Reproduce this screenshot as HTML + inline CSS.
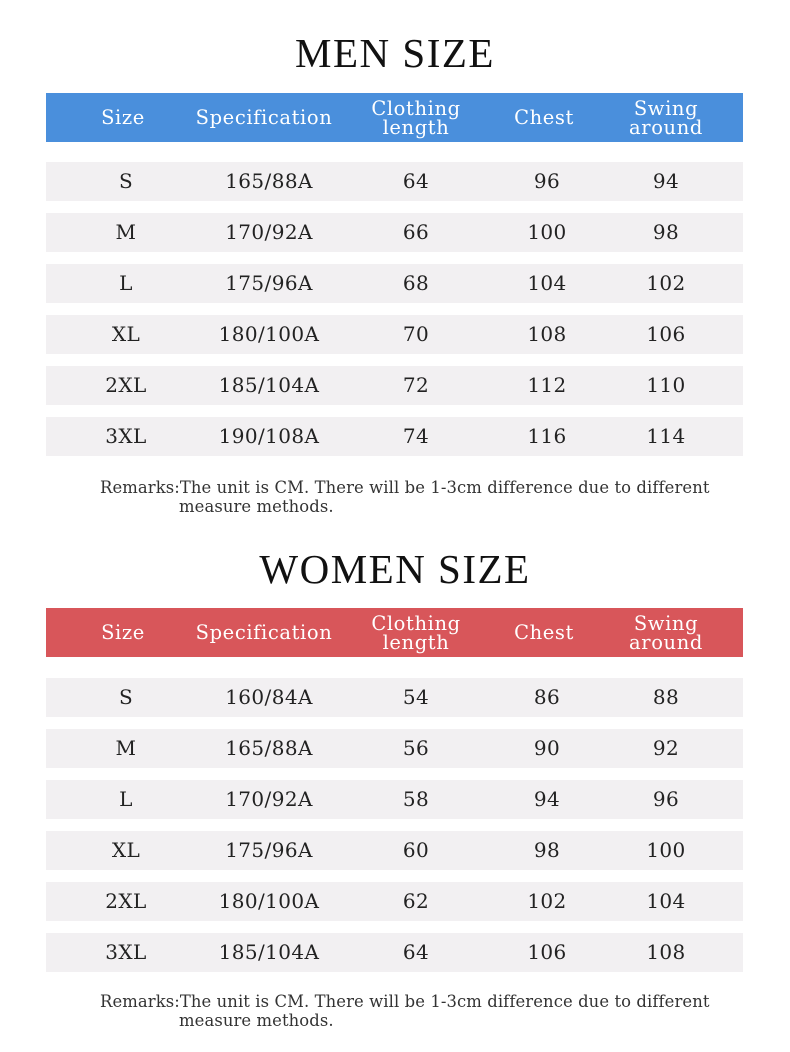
<!DOCTYPE html>
<html><head><style>
body{margin:0;width:790px;height:1052px;background:#fff;position:relative;font-family:"DejaVu Serif","Liberation Serif",serif;color:#222;overflow:hidden}
.t{position:absolute;left:0;width:790px;text-align:center;font-size:41px;letter-spacing:1.5px;color:#111;font-family:"Liberation Serif",serif}
.h,.r{position:absolute;left:46px;width:697px}
.h{height:49px;color:#fff;font-size:19.5px;letter-spacing:0.6px}
.r{height:39px;background:#f2f0f2;font-size:20px;letter-spacing:0.4px}
.c{position:absolute;top:0;height:100%;display:flex;align-items:center;justify-content:center;text-align:center;line-height:19px;width:160px;margin-left:-80px}
.rm{position:absolute;left:100px;font-size:16.4px;line-height:19px;color:#333;letter-spacing:0.1px;white-space:nowrap}
</style></head><body>
<div class="t" style="top:29px">MEN SIZE</div>
<div class="h" style="top:93px;background:#4a8fdc">
<div class="c" style="left:77px">Size</div><div class="c" style="left:218px">Specification</div><div class="c" style="left:370px">Clothing<br>length</div><div class="c" style="left:498px">Chest</div><div class="c" style="left:620px">Swing<br>around</div></div>
<div class="rm" style="top:478px">Remarks:The unit is CM. There will be 1-3cm difference due to different<br><span style="padding-left:79px">measure methods.</span></div>
<div class="t" style="top:545px">WOMEN SIZE</div>
<div class="h" style="top:608px;background:#d8565a">
<div class="c" style="left:77px">Size</div><div class="c" style="left:218px">Specification</div><div class="c" style="left:370px">Clothing<br>length</div><div class="c" style="left:498px">Chest</div><div class="c" style="left:620px">Swing<br>around</div></div>
<div class="rm" style="top:992px">Remarks:The unit is CM. There will be 1-3cm difference due to different<br><span style="padding-left:79px">measure methods.</span></div>

<div class="r" style="top:162px"><div class="c" style="left:80px">S</div><div class="c" style="left:223px">165/88A</div><div class="c" style="left:370px">64</div><div class="c" style="left:501px">96</div><div class="c" style="left:620px">94</div></div>
<div class="r" style="top:213px"><div class="c" style="left:80px">M</div><div class="c" style="left:223px">170/92A</div><div class="c" style="left:370px">66</div><div class="c" style="left:501px">100</div><div class="c" style="left:620px">98</div></div>
<div class="r" style="top:264px"><div class="c" style="left:80px">L</div><div class="c" style="left:223px">175/96A</div><div class="c" style="left:370px">68</div><div class="c" style="left:501px">104</div><div class="c" style="left:620px">102</div></div>
<div class="r" style="top:315px"><div class="c" style="left:80px">XL</div><div class="c" style="left:223px">180/100A</div><div class="c" style="left:370px">70</div><div class="c" style="left:501px">108</div><div class="c" style="left:620px">106</div></div>
<div class="r" style="top:366px"><div class="c" style="left:80px">2XL</div><div class="c" style="left:223px">185/104A</div><div class="c" style="left:370px">72</div><div class="c" style="left:501px">112</div><div class="c" style="left:620px">110</div></div>
<div class="r" style="top:417px"><div class="c" style="left:80px">3XL</div><div class="c" style="left:223px">190/108A</div><div class="c" style="left:370px">74</div><div class="c" style="left:501px">116</div><div class="c" style="left:620px">114</div></div>

<div class="r" style="top:678px"><div class="c" style="left:80px">S</div><div class="c" style="left:223px">160/84A</div><div class="c" style="left:370px">54</div><div class="c" style="left:501px">86</div><div class="c" style="left:620px">88</div></div>
<div class="r" style="top:729px"><div class="c" style="left:80px">M</div><div class="c" style="left:223px">165/88A</div><div class="c" style="left:370px">56</div><div class="c" style="left:501px">90</div><div class="c" style="left:620px">92</div></div>
<div class="r" style="top:780px"><div class="c" style="left:80px">L</div><div class="c" style="left:223px">170/92A</div><div class="c" style="left:370px">58</div><div class="c" style="left:501px">94</div><div class="c" style="left:620px">96</div></div>
<div class="r" style="top:831px"><div class="c" style="left:80px">XL</div><div class="c" style="left:223px">175/96A</div><div class="c" style="left:370px">60</div><div class="c" style="left:501px">98</div><div class="c" style="left:620px">100</div></div>
<div class="r" style="top:882px"><div class="c" style="left:80px">2XL</div><div class="c" style="left:223px">180/100A</div><div class="c" style="left:370px">62</div><div class="c" style="left:501px">102</div><div class="c" style="left:620px">104</div></div>
<div class="r" style="top:933px"><div class="c" style="left:80px">3XL</div><div class="c" style="left:223px">185/104A</div><div class="c" style="left:370px">64</div><div class="c" style="left:501px">106</div><div class="c" style="left:620px">108</div></div>
</body></html>
